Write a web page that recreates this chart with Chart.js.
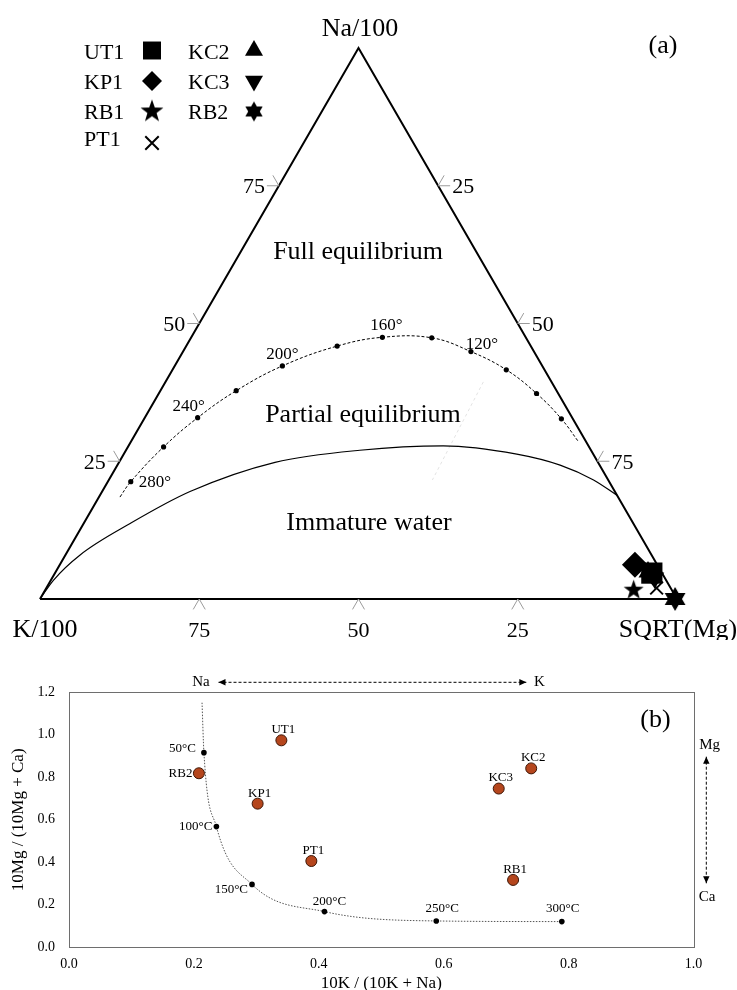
<!DOCTYPE html>
<html>
<head>
<meta charset="utf-8">
<title>Na-K-Mg triangle and Mg/Ca vs K/Na diagram</title>
<script src="https://cdn.jsdelivr.net/npm/chart.js@4.4.1/dist/chart.umd.min.js"></script>
<style>
  html, body { margin: 0; padding: 0; background: #fff; }
  body { width: 737px; height: 990px; overflow: hidden; position: relative; }
  #ternaryChart { position: absolute; left: 0; top: 0; }
  #ratioChart { position: absolute; left: 0; top: 640px; }
</style>
</head>
<body>
<canvas id="ternaryChart" width="737" height="640"></canvas>
<canvas id="ratioChart" width="737" height="360"></canvas>
<script>
// ---------------- data: (a) Na/100 - K/100 - SQRT(Mg) triangle, in % ----------------
const sampleNames = ['UT1', 'KP1', 'RB1', 'PT1', 'KC2', 'KC3', 'RB2'];
const sampleNa = [4.7, 6.2, 1.6, 2.0, 4.9, 3.8, 0.0];
const sampleK  = [1.6, 3.5, 6.0, 2.2, 2.1, 1.6, 0.3];
const sampleMg = [93.7, 90.3, 92.4, 95.8, 93.0, 94.6, 99.7];

// full equilibrium line (temperatures in degC)
const eqTemps = [280, 260, 240, 220, 200, 180, 160, 140, 120, 100, 80, 60];
const eqNa = [21.3, 27.6, 32.9, 37.8, 42.3, 45.9, 47.5, 47.4, 44.9, 41.6, 37.3, 32.7];
const eqK  = [75.1, 66.8, 58.8, 50.3, 40.8, 30.4, 22.5, 14.8, 9.9, 6.0, 3.4, 1.8];
const eqMg = [3.6, 5.6, 8.3, 11.9, 16.9, 23.7, 30.0, 37.8, 45.2, 52.4, 59.3, 65.5];
const eqEndNa = [18.5, 28.6];
const eqEndK  = [78.2, 1.2];
const eqEndMg = [3.3, 70.2];
const eqLabelled = [280, 240, 200, 160, 120];

// immature water boundary
const immNa = [0, 3.4, 8.0, 13.7, 19.5, 24.8, 27.0, 27.8, 26.3, 24.3, 21.6, 18.8];
const immK  = [100, 96.2, 89.7, 79.0, 66.7, 50.7, 36.3, 22.8, 12.0, 6.2, 2.3, 0];
const immMg = [0, 0.4, 2.3, 7.3, 13.8, 24.5, 36.7, 49.4, 61.7, 69.5, 76.1, 81.2];

// faint grey guide
const faintNa = [39.4, 21.6];
const faintK  = [10.7, 27.6];
const faintMg = [49.9, 50.8];

const edgeTicks = [25, 50, 75];
const vertexLabels = ['Na/100', 'K/100', 'SQRT(Mg)'];
const regionLabels = ['Full equilibrium', 'Partial equilibrium', 'Immature water'];

// ---------------- data: (b) 10Mg/(10Mg+Ca) vs 10K/(10K+Na) ----------------
const ratioK  = [0.340, 0.302, 0.711, 0.388, 0.740, 0.688, 0.208];
const ratioMg = [0.974, 0.676, 0.317, 0.406, 0.842, 0.747, 0.819];
const geoTemps = [50, 100, 150, 200, 250, 300];
const geoK  = [0.216, 0.236, 0.293, 0.409, 0.588, 0.789];
const geoMg = [0.916, 0.568, 0.296, 0.168, 0.124, 0.121];
const geoTopK = [0.213];
const geoTopMg = [1.151];
const ratioXTicks = [0, 0.2, 0.4, 0.6, 0.8, 1.0];
const ratioYTicks = [0, 0.2, 0.4, 0.6, 0.8, 1.0, 1.2];

// ---------------- helpers ----------------
const FONT = '"Liberation Serif", "Times New Roman", Times, serif';
const H = Math.sqrt(3) / 2 * 100;

function tern(na, k, mg) {
  const s = na + k + mg;
  return { x: (mg + na / 2) / s * 100, y: na / s * H };
}
const zipTern = (na, k, mg) => na.map((v, i) => tern(v, k[i], mg[i]));

function starCanvas(n, R, ratio) {
  const size = Math.ceil(R * 2 + 2);
  const c = document.createElement('canvas');
  c.width = c.height = size;
  const ctx = c.getContext('2d');
  ctx.beginPath();
  for (let i = 0; i < 2 * n; i++) {
    const rad = i % 2 ? R * ratio : R;
    const a = -Math.PI / 2 + i * Math.PI / n;
    const px = size / 2 + rad * Math.cos(a), py = size / 2 + rad * Math.sin(a);
    if (i) ctx.lineTo(px, py); else ctx.moveTo(px, py);
  }
  ctx.closePath();
  ctx.fillStyle = '#000';
  ctx.fill();
  return c;
}

function text(ctx, str, x, y, size, align = 'center', baseline = 'alphabetic') {
  ctx.font = size + 'px ' + FONT;
  ctx.textAlign = align;
  ctx.textBaseline = baseline;
  ctx.fillText(str, x, y);
}

function seg(ctx, x1, y1, x2, y2) {
  ctx.beginPath();
  ctx.moveTo(x1, y1);
  ctx.lineTo(x2, y2);
  ctx.stroke();
}

// marker look of each sample (plot size and legend size)
const markerStyle = {
  UT1: { plot: { pointStyle: 'rect', radius: 15 }, legend: { pointStyle: 'rect', radius: 12.7 } },
  KP1: { plot: { pointStyle: 'rectRot', radius: 13 }, legend: { pointStyle: 'rectRot', radius: 10 } },
  RB1: { plot: { pointStyle: starCanvas(5, 10.5, 0.4), radius: 10 }, legend: { pointStyle: starCanvas(5, 12, 0.4), radius: 12 } },
  PT1: { plot: { pointStyle: 'crossRot', radius: 9, borderWidth: 2 }, legend: { pointStyle: 'crossRot', radius: 9.5, borderWidth: 2 } },
  KC2: { plot: { pointStyle: 'triangle', radius: 11 }, legend: { pointStyle: 'triangle', radius: 10.4 } },
  KC3: { plot: { pointStyle: 'triangle', radius: 11, rotation: 180 }, legend: { pointStyle: 'triangle', radius: 10.4, rotation: 180 } },
  RB2: { plot: { pointStyle: starCanvas(6, 12, 0.577), radius: 12 }, legend: { pointStyle: starCanvas(6, 10, 0.577), radius: 10 } }
};

// legend layout: [column, row]
const legendCols = [{ textX: 84, markX: 152 }, { textX: 188, markX: 254 }];
const legendTextY = [59, 88.5, 118.5, 146];
const legendMarkY = [50.5, 81, 111.5, 143];
const legendSlot = { UT1: [0, 0], KP1: [0, 1], RB1: [0, 2], PT1: [0, 3], KC2: [1, 0], KC3: [1, 1], RB2: [1, 2] };

const eqLabelStyle = {
  280: { dx: 8, dy: 5.6, align: 'left' },
  240: { dx: -9, dy: -7, align: 'center' },
  200: { dx: 0, dy: -6.7, align: 'center' },
  160: { dx: 4, dy: -7, align: 'center' },
  120: { dx: 11, dy: -2.3, align: 'center' }
};
const vertexLabelPos = [{ x: 360, y: 36 }, { x: 45, y: 637 }, { x: 678, y: 637 }];
const regionLabelPos = [{ x: 358, y: 259 }, { x: 363, y: 422 }, { x: 369, y: 530 }];

// ---------------- (a) ternary chart ----------------
const ternaryDecor = {
  id: 'ternaryDecor',
  afterDatasetsDraw(chart) {
    const { ctx } = chart;
    const sx = chart.scales.x, sy = chart.scales.y;
    const pix = p => [sx.getPixelForValue(p.x), sy.getPixelForValue(p.y)];
    ctx.save();

    // edge ticks (short grey chevrons) and their labels
    const L = 12, c60 = 0.5, s60 = Math.sqrt(3) / 2;
    ctx.strokeStyle = '#9b9b9b';
    ctx.lineWidth = 1;
    ctx.fillStyle = '#000';
    edgeTicks.forEach(v => {
      let [x, y] = pix(tern(v, 100 - v, 0));          // left edge: Na
      seg(ctx, x, y, x - L, y);
      seg(ctx, x, y, x - L * c60, y - L * s60);
      text(ctx, String(v), x - 25, y + 7.5, 22);
      [x, y] = pix(tern(100 - v, 0, v));              // right edge: Mg
      seg(ctx, x, y, x + L, y);
      seg(ctx, x, y, x + L * c60, y - L * s60);
      text(ctx, String(v), x + 25, y + 7.5, 22);
      [x, y] = pix(tern(0, v, 100 - v));              // bottom edge: K
      seg(ctx, x, y, x - L * c60, y + L * s60);
      seg(ctx, x, y, x + L * c60, y + L * s60);
      text(ctx, String(v), x, y + 38, 22);
    });

    // temperatures on the full equilibrium line
    eqLabelled.forEach(t => {
      const i = eqTemps.indexOf(t);
      const [x, y] = pix(tern(eqNa[i], eqK[i], eqMg[i]));
      const st = eqLabelStyle[t];
      text(ctx, t + '°', x + st.dx, y + st.dy, 17, st.align);
    });

    vertexLabels.forEach((s, i) => text(ctx, s, vertexLabelPos[i].x, vertexLabelPos[i].y, 26));
    regionLabels.forEach((s, i) => text(ctx, s, regionLabelPos[i].x, regionLabelPos[i].y, 26));
    text(ctx, '(a)', 663, 53, 26);

    // legend: name on the left, marker on the right
    sampleNames.forEach(name => {
      const [c, r] = legendSlot[name];
      const col = legendCols[c];
      text(ctx, name, col.textX, legendTextY[r], 22, 'left');
      const st = markerStyle[name].legend;
      ctx.fillStyle = '#000';
      ctx.strokeStyle = '#000';
      ctx.lineWidth = st.borderWidth || 0;
      Chart.helpers.drawPoint(ctx, Object.assign({ rotation: 0, borderWidth: 0 }, st), col.markX, legendMarkY[r]);
    });
    ctx.restore();
  }
};

const sampleSets = sampleNames.map((name, i) => {
  const st = markerStyle[name].plot;
  return {
    label: name,
    data: [tern(sampleNa[i], sampleK[i], sampleMg[i])],
    pointStyle: st.pointStyle,
    pointRadius: st.radius,
    pointRotation: st.rotation || 0,
    pointBackgroundColor: '#000',
    pointBorderColor: '#000',
    pointBorderWidth: st.borderWidth || 0,
    clip: false,
    order: 0
  };
});

const eqPoints = zipTern(eqNa, eqK, eqMg);
const eqEnds = zipTern(eqEndNa, eqEndK, eqEndMg);

new Chart(document.getElementById('ternaryChart'), {
  type: 'scatter',
  data: {
    datasets: [
      ...sampleSets,
      {
        label: 'Full equilibrium points',
        data: eqPoints,
        pointRadius: 2.6,
        pointBackgroundColor: '#000',
        pointBorderWidth: 0,
        clip: false,
        order: 1
      },
      {
        label: 'Full equilibrium line',
        data: [eqEnds[0], ...eqPoints, eqEnds[1]],
        showLine: true,
        borderColor: '#000',
        borderWidth: 1,
        borderDash: [3, 2],
        tension: 0.4,
        pointRadius: 0,
        clip: false,
        order: 2
      },
      {
        label: 'Immature water',
        data: zipTern(immNa, immK, immMg),
        showLine: true,
        borderColor: '#000',
        borderWidth: 1.2,
        cubicInterpolationMode: 'monotone',
        pointRadius: 0,
        clip: false,
        order: 3
      },
      {
        label: 'guide',
        data: zipTern(faintNa, faintK, faintMg),
        showLine: true,
        borderColor: '#e3e3e3',
        borderWidth: 1,
        borderDash: [3, 3],
        pointRadius: 0,
        order: 4
      },
      {
        label: 'triangle',
        data: [tern(0, 100, 0), tern(0, 0, 100), tern(100, 0, 0), tern(0, 100, 0)],
        showLine: true,
        borderColor: '#000',
        borderWidth: 2,
        pointRadius: 0,
        clip: false,
        order: 5
      }
    ]
  },
  options: {
    responsive: false,
    animation: false,
    events: [],
    layout: { padding: { left: 40, right: 60, top: 48, bottom: 41 } },
    plugins: { legend: { display: false }, tooltip: { enabled: false } },
    scales: {
      x: { type: 'linear', min: 0, max: 100, display: false },
      y: { type: 'linear', min: 0, max: H, display: false }
    }
  },
  plugins: [ternaryDecor]
});

// ---------------- (b) ratio chart ----------------
const sampleLabelStyle = { RB2: { dx: -6.5, dy: 0, align: 'right' } };
const geoLabelStyle = {
  50: { dx: -8, dy: -4, align: 'right' },
  100: { dx: -4, dy: 0, align: 'right' },
  150: { dx: -4, dy: 5, align: 'right' },
  200: { dx: 5, dy: -10, align: 'center' },
  250: { dx: 6, dy: -12, align: 'center' },
  300: { dx: 1, dy: -13, align: 'center' }
};

function arrow(ctx, x1, y1, x2, y2) {
  ctx.setLineDash([3, 2]);
  seg(ctx, x1, y1, x2, y2);
  ctx.setLineDash([]);
  const a = Math.atan2(y2 - y1, x2 - x1), len = 7, w = 3.2;
  [[x2, y2, a], [x1, y1, a + Math.PI]].forEach(([x, y, ang]) => {
    ctx.beginPath();
    ctx.moveTo(x, y);
    ctx.lineTo(x - len * Math.cos(ang) + w * Math.sin(ang), y - len * Math.sin(ang) - w * Math.cos(ang));
    ctx.lineTo(x - len * Math.cos(ang) - w * Math.sin(ang), y - len * Math.sin(ang) + w * Math.cos(ang));
    ctx.closePath();
    ctx.fill();
  });
}

const ratioDecor = {
  id: 'ratioDecor',
  beforeDatasetsDraw(chart) {
    const { ctx, chartArea: a } = chart;
    ctx.save();
    ctx.strokeStyle = '#6e6e6e';
    ctx.lineWidth = 1;
    ctx.strokeRect(Math.round(a.left) + 0.5, Math.round(a.top) + 0.5,
      Math.round(a.right - a.left), Math.round(a.bottom - a.top));
    ctx.restore();
  },
  afterDatasetsDraw(chart) {
    const { ctx } = chart;
    const sx = chart.scales.x, sy = chart.scales.y;
    ctx.save();
    ctx.fillStyle = '#000';
    ctx.strokeStyle = '#000';
    ctx.lineWidth = 1;

    sampleNames.forEach((name, i) => {
      const x = sx.getPixelForValue(ratioK[i]), y = sy.getPixelForValue(ratioMg[i]);
      const st = sampleLabelStyle[name] || { dx: 2, dy: -10.5, align: 'center' };
      text(ctx, name, x + st.dx, y + st.dy, 13, st.align, 'middle');
    });
    geoTemps.forEach((t, i) => {
      const x = sx.getPixelForValue(geoK[i]), y = sy.getPixelForValue(geoMg[i]);
      const st = geoLabelStyle[t];
      text(ctx, t + '°C', x + st.dx, y + st.dy, 13, st.align, 'middle');
    });

    // Na <-> K and Mg <-> Ca direction arrows
    arrow(ctx, 218.5, 42.3, 526.3, 42.3);
    text(ctx, 'Na', 201, 42.3, 15, 'center', 'middle');
    text(ctx, 'K', 539.5, 42.3, 15, 'center', 'middle');
    arrow(ctx, 706.3, 116.7, 706.3, 243.3);
    text(ctx, 'Mg', 709.6, 105, 15, 'center', 'middle');
    text(ctx, 'Ca', 707, 256.7, 15, 'center', 'middle');
    text(ctx, '(b)', 655.5, 80, 26, 'center', 'middle');
    ctx.restore();
  }
};

new Chart(document.getElementById('ratioChart'), {
  type: 'scatter',
  data: {
    datasets: [
      {
        label: 'Samples',
        data: ratioK.map((v, i) => ({ x: v, y: ratioMg[i] })),
        pointRadius: 5.5,
        pointBackgroundColor: '#b5461d',
        pointBorderColor: '#3d1606',
        pointBorderWidth: 1,
        order: 0
      },
      {
        label: 'Geothermometer',
        data: geoK.map((v, i) => ({ x: v, y: geoMg[i] })),
        pointRadius: 2.8,
        pointBackgroundColor: '#000',
        pointBorderWidth: 0,
        order: 1
      },
      {
        label: 'Geothermometer curve',
        data: [{ x: geoTopK[0], y: geoTopMg[0] }, ...geoK.map((v, i) => ({ x: v, y: geoMg[i] }))],
        showLine: true,
        borderColor: '#555',
        borderWidth: 1,
        borderDash: [1.5, 1.5],
        cubicInterpolationMode: 'monotone',
        pointRadius: 0,
        order: 2
      }
    ]
  },
  options: {
    responsive: false,
    animation: false,
    events: [],
    layout: { padding: { left: 0, right: 43.4, top: 52.3, bottom: 0 } },
    plugins: { legend: { display: false }, tooltip: { enabled: false } },
    scales: {
      x: {
        type: 'linear', min: 0, max: 1,
        afterBuildTicks: s => { s.ticks = ratioXTicks.map(v => ({ value: v })); },
        afterFit: s => { s.height = 52.7; },
        grid: { display: false, drawTicks: false },
        border: { display: false },
        ticks: { padding: 9, color: '#000', maxRotation: 0, autoSkip: false,
          font: { family: FONT, size: 14 }, callback: v => Number(v).toFixed(1) },
        title: { display: true, text: '10K / (10K + Na)', color: '#000',
          font: { family: FONT, size: 17, lineHeight: 1 }, padding: { top: 0, bottom: 7.5 } }
      },
      y: {
        type: 'linear', min: 0, max: 1.2,
        afterBuildTicks: s => { s.ticks = ratioYTicks.map(v => ({ value: v })); },
        afterFit: s => { s.width = 69; },
        grid: { display: false, drawTicks: false },
        border: { display: false },
        ticks: { padding: 14, color: '#000', autoSkip: false,
          font: { family: FONT, size: 14 }, callback: v => Number(v).toFixed(1) },
        title: { display: true, text: '10Mg / (10Mg + Ca)', color: '#000',
          font: { family: FONT, size: 17, lineHeight: 1 }, padding: { top: 10.3, bottom: 0 } }
      }
    }
  },
  plugins: [ratioDecor]
});
</script>
</body>
</html>
